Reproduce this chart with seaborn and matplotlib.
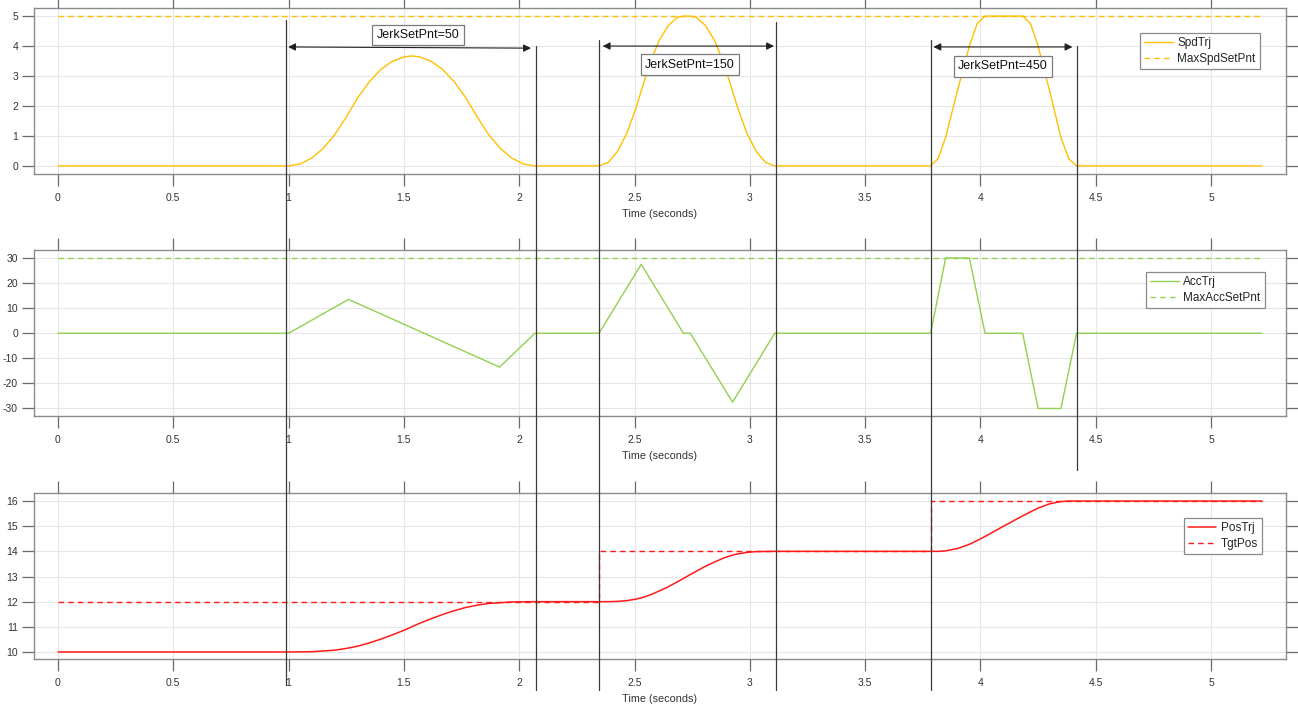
import matplotlib
matplotlib.use("Agg")
import matplotlib.pyplot as plt
import matplotlib.transforms as mtransforms
from matplotlib.lines import Line2D
import pandas as pd
import seaborn as sns

# ---- speed trajectory (units/s) ----
spd_t = [0.0, 1.0, 1.05, 1.10, 1.15, 1.20, 1.25, 1.30, 1.35, 1.40, 1.45, 1.50, 1.534,
         1.568, 1.618, 1.668, 1.718, 1.768, 1.818, 1.868, 1.918, 1.968, 2.018, 2.068,
         2.346, 2.386, 2.426, 2.466, 2.506, 2.529, 2.566, 2.606, 2.646, 2.686, 2.712,
         2.742, 2.768, 2.808, 2.848, 2.888, 2.925, 2.948, 2.988, 3.028, 3.068, 3.108,
         3.784, 3.816, 3.849, 3.90, 3.952, 3.986, 4.020,
         4.183, 4.217, 4.250, 4.30, 4.349, 4.383, 4.417, 5.22]
spd_v = [0.0, 0.0, 0.065, 0.26, 0.585, 1.04, 1.63, 2.28, 2.81, 3.22, 3.49, 3.64, 3.67,
         3.64, 3.49, 3.22, 2.81, 2.28, 1.63, 1.04, 0.585, 0.26, 0.065, 0.0,
         0.0, 0.12, 0.48, 1.08, 1.92, 2.50, 3.41, 4.17, 4.68, 4.96, 5.0,
         5.0, 4.96, 4.68, 4.17, 3.41, 2.50, 1.92, 1.08, 0.48, 0.12, 0.0,
         0.0, 0.24, 0.95, 2.50, 4.0, 4.75, 5.0,
         5.0, 4.75, 4.0, 2.50, 0.95, 0.24, 0.0, 0.0]
max_spd_t = [0.0, 5.22]
max_spd = [5.0, 5.0]

# ---- acceleration trajectory (piecewise linear) ----
acc_t = [0.0, 1.0, 1.26, 1.915, 2.068, 2.346, 2.529, 2.712, 2.742, 2.925, 3.108,
         3.784, 3.849, 3.952, 4.020, 4.183, 4.250, 4.349, 4.417, 5.22]
acc_v = [0.0, 0.0, 13.5, -13.5, 0.0, 0.0, 27.5, 0.0, 0.0, -27.5, 0.0,
         0.0, 30.0, 30.0, 0.0, 0.0, -30.0, -30.0, 0.0, 0.0]
max_acc_t = [0.0, 5.22]
max_acc = [30.0, 30.0]

# ---- position trajectory and target ----
pos_t = [0.0, 1.0, 1.10, 1.20, 1.25, 1.30, 1.35, 1.40, 1.45, 1.50, 1.534, 1.568, 1.618,
         1.668, 1.718, 1.768, 1.818, 1.868, 1.968, 2.068,
         2.346, 2.386, 2.426, 2.466, 2.506, 2.529, 2.566, 2.606, 2.646, 2.686, 2.712,
         2.727, 2.742, 2.768, 2.808, 2.848, 2.888, 2.925, 2.948, 2.988, 3.028, 3.108,
         3.784, 3.816, 3.849, 3.90, 3.952, 3.986, 4.020, 4.10, 4.183, 4.217, 4.250,
         4.30, 4.349, 4.383, 4.417, 5.22]
pos_v = [10.0, 10.0, 10.01, 10.07, 10.14, 10.23, 10.36, 10.51, 10.68, 10.86, 11.0, 11.14, 11.32,
         11.49, 11.64, 11.77, 11.86, 11.93, 11.99, 12.0,
         12.0, 12.0, 12.01, 12.04, 12.10, 12.15, 12.26, 12.42, 12.59, 12.79, 12.92,
         13.0, 13.08, 13.21, 13.41, 13.58, 13.74, 13.85, 13.90, 13.96, 13.99, 14.0,
         14.0, 14.0, 14.02, 14.11, 14.28, 14.43, 14.59, 15.0, 15.41, 15.57, 15.72,
         15.89, 15.98, 16.0, 16.0, 16.0]
tgt_t = [0.0, 2.346, 2.346, 3.784, 3.784, 5.22]
tgt_v = [12.0, 12.0, 14.0, 14.0, 16.0, 16.0]

# ---- segment boundaries and jerk set points ----
seg_marks = [0.988, 2.071, 2.347, 3.115, 3.786, 4.419]
jerk_labels = ["JerkSetPnt=50", "JerkSetPnt=150", "JerkSetPnt=450"]

x_ticks = [0, 0.5, 1, 1.5, 2, 2.5, 3, 3.5, 4, 4.5, 5]
x_tick_labels = ["0", "0.5", "1", "1.5", "2", "2.5", "3", "3.5", "4", "4.5", "5"]

sns.set_theme(style="whitegrid")
plt.rcParams["font.family"] = ["Liberation Sans", "DejaVu Sans"]

W, H = 1298, 704
fig = plt.figure(figsize=(W / 100, H / 100), dpi=100)

def px_axes(x0, y0, x1, y1):
    return fig.add_axes([x0 / W, 1 - y1 / H, (x1 - x0) / W, (y1 - y0) / H])

ax_spd = px_axes(34, 8, 1286, 174)
ax_acc = px_axes(34, 250, 1286, 416)
ax_pos = px_axes(34, 493, 1286, 659)

YELLOW = "#FFC000"
GREEN = "#92D050"
RED = "#FF1A1A"

spd_df = pd.DataFrame({"t": spd_t, "v": spd_v})
acc_df = pd.DataFrame({"t": acc_t, "a": acc_v})
pos_df = pd.DataFrame({"t": pos_t, "p": pos_v})
tgt_df = pd.DataFrame({"t": tgt_t, "p": tgt_v})

common = dict(estimator=None, sort=False)
sns.lineplot(data=spd_df, x="t", y="v", ax=ax_spd, color=YELLOW, lw=1.0, label="SpdTrj", **common)
sns.lineplot(x=max_spd_t, y=max_spd, ax=ax_spd, color=YELLOW, lw=1.0, ls=(0, (4, 3)),
             label="MaxSpdSetPnt", **common)
sns.lineplot(data=acc_df, x="t", y="a", ax=ax_acc, color=GREEN, lw=1.0, label="AccTrj", **common)
sns.lineplot(x=max_acc_t, y=max_acc, ax=ax_acc, color=GREEN, lw=1.0, ls=(0, (4, 3)),
             label="MaxAccSetPnt", **common)
sns.lineplot(data=pos_df, x="t", y="p", ax=ax_pos, color=RED, lw=1.1, label="PosTrj", **common)
sns.lineplot(data=tgt_df, x="t", y="p", ax=ax_pos, color=RED, lw=1.0, ls=(0, (4, 3)),
             label="TgtPos", **common)

limits = [(ax_spd, (-0.27, 5.27), [0, 1, 2, 3, 4, 5], (0.979, 0.849)),
          (ax_acc, (-33.0, 33.2), [-30, -20, -10, 0, 10, 20, 30], (0.983, 0.867)),
          (ax_pos, (9.72, 16.32), [10, 11, 12, 13, 14, 15, 16], (0.981, 0.849))]

for ax, ylim, yt, leg_anchor in limits:
    ax.set_facecolor("white")
    ax.set_xlim(-0.104, 5.325)
    ax.set_ylim(*ylim)
    ax.set_xticks(x_ticks)
    ax.set_xticklabels(x_tick_labels)
    ax.set_yticks(yt)
    ax.set_yticklabels([str(v) for v in yt])
    ax.grid(True, color="#e6e6e6", lw=0.8)
    for s in ax.spines.values():
        s.set_visible(True)
        s.set_color("#8a8a8a")
        s.set_linewidth(1.0)
    ax.tick_params(axis="both", which="major", direction="out", length=8.5, width=0.9,
                   color="#6a6a6a", bottom=True, top=True, left=True, right=True,
                   labelbottom=True, labeltop=False, labelleft=True, labelright=False,
                   labelsize=7.5, labelcolor="#333333", pad=3)
    ax.tick_params(axis="x", pad=5.5)
    ax.set_xlabel("Time (seconds)", fontsize=7.8, color="#333333", labelpad=4)
    ax.set_ylabel("")
    leg = ax.legend(loc="upper right", bbox_to_anchor=leg_anchor, borderaxespad=0,
                    fontsize=8.5, frameon=True, fancybox=False, framealpha=1,
                    edgecolor="#8a8a8a", handlelength=2.4, handletextpad=0.4,
                    borderpad=0.35, labelspacing=0.3)
    leg.get_frame().set_linewidth(0.9)

# segment boundary lines drawn across the panels
trans = mtransforms.blended_transform_factory(ax_spd.transData, fig.transFigure)
line_spans = [(20, 685), (46, 690), (40, 690), (22, 690), (40, 690), (46, 470)]
for xm, (ya, yb) in zip(seg_marks, line_spans):
    fig.add_artist(Line2D([xm, xm], [1 - ya / H, 1 - yb / H], transform=trans,
                          color="#3a3a3a", lw=0.9))

# double-headed arrows marking each segment, with jerk labels
arrows = [((seg_marks[0] + 0.01, 3.97), (seg_marks[1] - 0.02, 3.93)),
          ((seg_marks[2] + 0.015, 4.0), (seg_marks[3] - 0.01, 4.0)),
          ((seg_marks[4] + 0.01, 3.97), (seg_marks[5] - 0.02, 3.97))]
label_pos = [(1.562, 4.37), (2.741, 3.38), (4.098, 3.32)]
for (p0, p1), lab, (lx, ly) in zip(arrows, jerk_labels, label_pos):
    ax_spd.annotate("", xy=p1, xytext=p0,
                    arrowprops=dict(arrowstyle="<|-|>", color="#202020", lw=0.8,
                                    shrinkA=0, shrinkB=0, mutation_scale=11))
    ax_spd.text(lx, ly, lab, ha="center", va="center", fontsize=9, color="#111111",
                bbox=dict(boxstyle="square,pad=0.35", fc="white", ec="#7a7a7a", lw=0.9))

fig.savefig("out.png", dpi=100)
